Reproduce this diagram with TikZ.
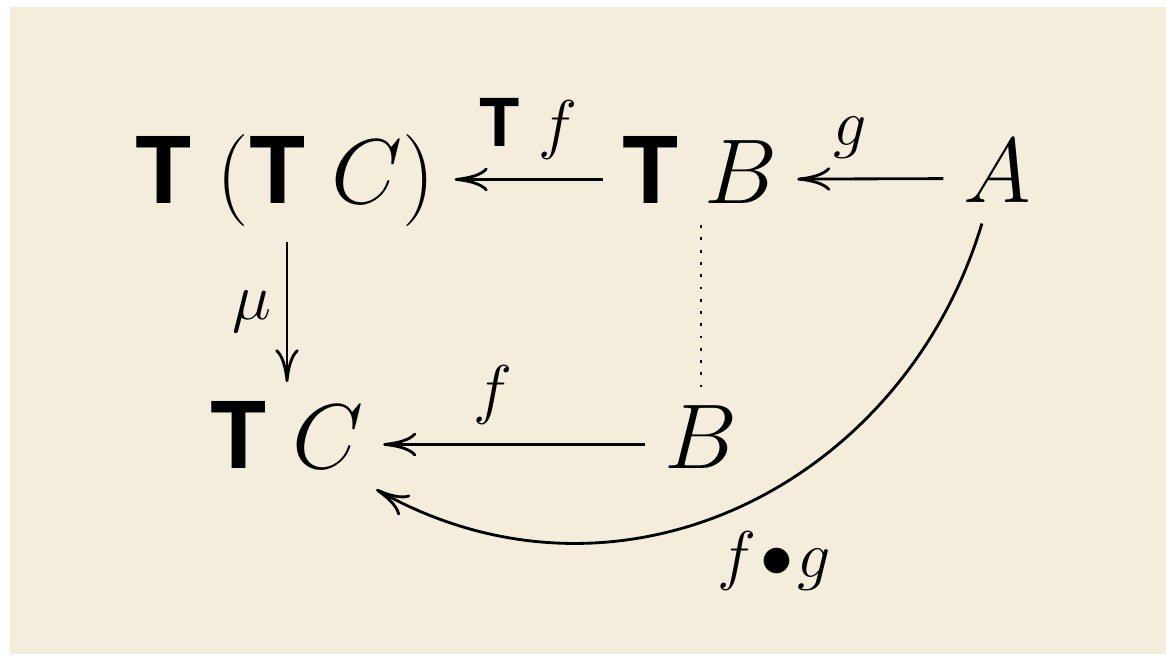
\RequirePackage{fix-cm}
\documentclass[tikz,border=0pt]{standalone}
\usepackage{amsmath}
\usepackage{fontspec}
\usetikzlibrary{arrows.meta, positioning}
\newfontfamily\herosfont{TeX Gyre Heros}
\definecolor{paper}{RGB}{245,237,219}
\definecolor{ink}{RGB}{0,0,0}
\newcommand{\TT}{\mbox{\herosfont\bfseries T}}
\tikzset{
  obj/.style={
    anchor=base,
    inner xsep=4pt,
    inner ysep=3pt,
    text height=15pt,
    text depth=5pt,
    font=\fontsize{19.5}{24}\selectfont
  },
  lab/.style={font=\fontsize{14}{17}\selectfont, inner sep=2pt},
  arr/.style={-{Computer Modern Rightarrow[length=7pt,width=5pt]}, line width=0.6pt, draw=ink},
  dots/.style={dotted, line width=0.6pt, draw=ink}
}

\begin{document}
\begin{tikzpicture}[x=0.212pt, y=-0.212pt]
  \useasboundingbox (0,0) rectangle (1166,656);
  \fill[white] (0,0) rectangle (1166,656);
  \fill[paper] (10,7) rectangle (1166,654);

  \node[obj] (TTC) at (285,203) {$\TT\;(\TT\;C)$};
  \node[obj] (TB) at (700,203) {$\TT\;B$};
  \node[obj] (A) at (997,202) {$A$};
  \node[obj] (TC) at (287,468) {$\TT\;C$};
  \node[obj] (B) at (701,468) {$B$};

  \draw[arr] (TB) -- node[lab, above=2pt] {$\TT\;f$} (TTC);
  \draw[arr] (A) -- node[lab, above=2pt, pos=0.64] {$g$} (TB);
  \draw[arr] (TTC.south -| TC.north) -- node[lab, left=1pt] {$\mu$} (TC.north);
  \draw[arr] (B) -- node[lab, above=2pt, pos=0.58] {$f$} (TC);
  \draw[dots, shorten <=-3.5pt, shorten >=-1pt] (TB.south -| B.north) -- (B.north);
  \draw[arr, shorten <=-3.8pt, shorten >=-1.7pt] (A.-108) .. controls +(-73,243) and +(238,134) .. node[lab, pos=0.45, below=6pt] {$f\!\bullet\! g$} (TC.-27);
\end{tikzpicture}
\end{document}
